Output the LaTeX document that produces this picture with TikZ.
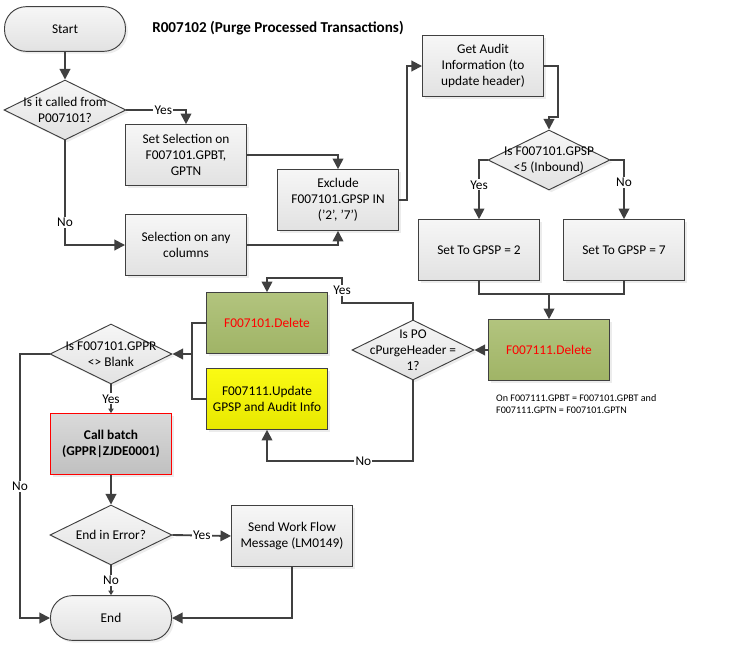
\documentclass[tikz,border=0pt]{standalone}
\usepackage{fontspec}
\setmainfont{Carlito}
\usetikzlibrary{shapes.geometric,arrows.meta,shadows}
\definecolor{linegray}{RGB}{64,64,64}
\definecolor{boxtop}{RGB}{246,246,246}
\definecolor{boxbot}{RGB}{226,226,226}
\definecolor{olivetop}{RGB}{178,196,126}
\definecolor{olivebot}{RGB}{160,180,102}
\definecolor{yeltop}{RGB}{250,250,20}
\definecolor{yelbot}{RGB}{232,232,0}
\definecolor{calltop}{RGB}{218,218,218}
\definecolor{callbot}{RGB}{192,192,192}
\begin{document}
\begin{tikzpicture}[x=0.3mm,y=-0.3mm,
  every node/.style={font=\fontsize{11.4}{13.6}\selectfont},
  shade/.style={drop shadow={opacity=0.15,shadow xshift=0.7mm,shadow yshift=-0.7mm}},
  terminal/.style={draw=linegray,line width=0.8pt,rectangle,rounded corners=6.5mm,minimum width=36.3mm,minimum height=13.4mm,top color=boxtop,bottom color=boxbot,shade},
  process/.style={draw=linegray,line width=0.8pt,rectangle,minimum width=36.3mm,minimum height=18.2mm,inner sep=1pt,align=center,top color=boxtop,bottom color=boxbot,shade},
  decision/.style={draw=linegray,line width=0.8pt,diamond,minimum width=36.6mm,minimum height=18mm,inner sep=0pt,top color=boxtop,bottom color=boxbot,shade,label={[align=center]center:#1}},
  delbox/.style={process,top color=olivetop,bottom color=olivebot,text=red},
  arr/.style={draw=linegray,line width=1.6pt,-{Triangle[length=9pt,width=9pt]}},
  sarr/.style={draw=linegray,line width=1.6pt,-{Triangle[length=4pt,width=4.5pt]}},
  ln/.style={draw=linegray,line width=1.6pt},
  lbl/.style={fill=white,inner sep=1pt}]
\useasboundingbox (0,0) rectangle (730,645);

\node (S) at (65,29) [terminal]{Start};
\node (T) at (278,28) [font=\fontsize{12.9}{15}\selectfont\bfseries]{R007102 (Purge Processed Transactions)};
\node (A) at (65,110) [decision={Is it called from\\P007101?}]{};
\node (B) at (186,155) [process]{Set Selection on\\F007101.GPBT,\\GPTN};
\node (C) at (186,245) [process]{Selection on any\\columns};
\node (D) at (338,200) [process]{Exclude\\F007101.GPSP IN\\('2', '7')};
\node (E) at (483,66) [process]{Get Audit\\Information (to\\update header)};
\node (F) at (549,160) [decision={Is F007101.GPSP\\<5 (Inbound)}]{};
\node (G) at (479,250) [process]{Set To GPSP = 2};
\node (H) at (624,250) [process]{Set To GPSP = 7};
\node (I) at (549,350) [delbox]{F007111.Delete};
\node (J) at (492,404) [anchor=west,align=left,font=\fontsize{8.6}{10.5}\selectfont]{On F007111.GPBT = F007101.GPBT and\\F007111.GPTN = F007101.GPTN};
\node (K) at (413,350) [decision={Is PO\\cPurgeHeader =\\1?}]{};
\node (L) at (267,323) [delbox]{F007101.Delete};
\node (M) at (267,399) [process,top color=yeltop,bottom color=yelbot]{F007111.Update\\GPSP and Audit Info};
\node (N) at (111,354) [decision={Is F007101.GPPR\\<> Blank}]{};
\node (O) at (111,444) [process,draw=red,top color=calltop,bottom color=callbot,font=\fontsize{11.4}{13.6}\selectfont\bfseries]{Call batch\\(GPPR|ZJDE0001)};
\node (P) at (111,535) [decision={End in Error?}]{};
\node (Q) at (292,536) [process]{Send Work Flow\\Message (LM0149)};
\node (R) at (111,618) [terminal]{End};

\coordinate (e1) at (558,117);
\coordinate (j1) at (549,294);
\coordinate (k1) at (342,303);
\coordinate (k2) at (342,278);
\coordinate (k3) at (413,461);
\coordinate (j2) at (192,354);
\coordinate (n1) at (20,354);

\draw[arr] (S)--(A);
\draw[arr] (A.east) -| node[lbl,pos=0.31]{Yes} (B.north);
\draw[arr] (A.south) |- node[lbl,pos=0.39]{No} (C.west);
\draw[arr] (B.east) -| (D.north);
\draw[arr] (C.east) -| (D.south);
\draw[arr] (D.east) -- ++(8,0) |- (E.west);
\draw[arr] (E.east) -| (e1) -| (F.north);
\draw[arr] (F.west) -| node[lbl,pos=0.71]{Yes} (G.north);
\draw[arr] (F.east) -| node[lbl,pos=0.69]{No} (H.north);
\draw[ln] (G.south) |- (j1);
\draw[ln] (H.south) |- (j1);
\draw[arr] (j1)--(I.north);
\draw[arr] (I.west)--(K.east);
\draw[arr] (K.north) |- (k1) -- node[lbl]{Yes} (k2) -| (L.north);
\draw[arr] (K.south) -- (k3) -| node[lbl,pos=0.17]{No} (M.south);
\draw[ln] (L.west) -| (j2);
\draw[ln] (M.west) -| (j2);
\draw[arr] (j2)--(N.east);
\draw[arr] (N.west) -- (n1) |- node[lbl,pos=0.25]{No} (R.west);
\draw[sarr] (N.south) -- node[lbl]{Yes} (O.north);
\draw[arr] (O.south)--(P.north);
\draw[arr] (P.east) -- node[lbl]{Yes} (Q.west);
\draw[sarr] (P.south) -- node[lbl]{No} (R.north);
\draw[arr] (Q.south) |- (R.east);

\end{tikzpicture}
\end{document}
